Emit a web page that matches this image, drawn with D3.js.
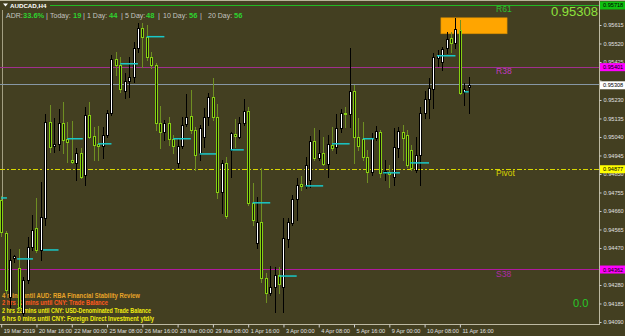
<!DOCTYPE html>
<html><head><meta charset="utf-8">
<script src="https://cdn.jsdelivr.net/npm/d3@7"></script>
<style>html,body{margin:0;padding:0;background:#433f21;overflow:hidden}svg{display:block}text{font-family:"Liberation Sans",Arial,sans-serif}</style>
</head><body><svg id="c" width="625" height="336"></svg>
<script>
// ---- data (AUDCAD H4, bar 0 = 19 Mar 2019 08:00) ----
const opens  = [0.94717,0.94548,0.94218,0.94419,0.94367,0.94136,0.94306,0.94475,0.94573,0.94460,
0.94624,0.95118,0.94995,0.95005,0.95113,0.95031,0.94923,0.94907,0.94959,0.94846,
0.95154,0.95046,0.95005,0.94995,0.95051,0.95164,0.95442,0.95411,0.95277,0.95329,
0.95349,0.95498,0.95601,0.95555,0.95452,0.95411,0.95113,0.95067,0.95113,0.95031,
0.94907,0.94995,0.95108,0.95149,0.95077,0.94959,0.95041,0.95144,0.95246,0.95144,
0.94758,0.94907,0.94974,0.95056,0.95041,0.95113,0.95175,0.94702,0.94496,0.94604,
0.94316,0.94239,0.94270,0.94332,0.94270,0.94517,0.94599,0.94722,0.94799,0.94789,
0.94820,0.95020,0.94933,0.94959,0.94902,0.95000,0.94989,0.95087,0.95164,0.95159,
0.95277,0.95041,0.95031,0.94938,0.94861,0.95036,0.95067,0.94856,0.94861,0.94835,
0.94984,0.95067,0.95051,0.94974,0.94871,0.94948,0.95164,0.95236,0.95288,0.95447,
0.95426,0.95498,0.95550,0.95524,0.95591,0.95272,0.95298];
const highs  = [0.94738,0.94558,0.94465,0.94434,0.94465,0.94321,0.94527,0.94640,0.94727,0.94810,
0.95159,0.95205,0.95139,0.95185,0.95221,0.95118,0.95123,0.94984,0.94984,0.95195,
0.95221,0.95092,0.95097,0.95092,0.95180,0.95462,0.95478,0.95452,0.95370,0.95452,
0.95529,0.95627,0.95627,0.95617,0.95478,0.95421,0.95200,0.95128,0.95144,0.95051,
0.95036,0.95144,0.95262,0.95282,0.95092,0.95103,0.95190,0.95267,0.95344,0.95210,
0.94923,0.94938,0.95067,0.95133,0.95144,0.95236,0.95195,0.94804,0.94732,0.94881,
0.94342,0.94378,0.94373,0.94373,0.94624,0.94624,0.94743,0.94830,0.94840,0.94938,
0.95046,0.95087,0.95077,0.95041,0.95051,0.95092,0.95159,0.95185,0.95195,0.95498,
0.95308,0.95139,0.95118,0.94974,0.95061,0.95097,0.95077,0.94923,0.94897,0.95087,
0.95092,0.95103,0.95077,0.95000,0.95041,0.95195,0.95277,0.95344,0.95473,0.95488,
0.95503,0.95581,0.95581,0.95652,0.95642,0.95318,0.95349];
const lows   = [0.94532,0.94239,0.94167,0.94398,0.94152,0.94126,0.94290,0.94460,0.94450,0.94409,
0.94589,0.94964,0.94964,0.94974,0.94959,0.94912,0.94907,0.94820,0.94830,0.94794,
0.95036,0.94923,0.94923,0.94933,0.95041,0.95154,0.95360,0.95272,0.95241,0.95246,
0.95324,0.95478,0.95401,0.95437,0.95396,0.95077,0.94984,0.95025,0.95000,0.94959,
0.94887,0.94984,0.95097,0.95061,0.94871,0.94923,0.94989,0.95103,0.95128,0.94727,
0.94650,0.94624,0.94835,0.94989,0.95036,0.95103,0.94691,0.94589,0.94470,0.94296,
0.94193,0.94229,0.94141,0.94239,0.94141,0.94475,0.94589,0.94614,0.94768,0.94779,
0.94784,0.94923,0.94923,0.94897,0.94835,0.94974,0.94959,0.95067,0.95092,0.95092,
0.94907,0.94974,0.94923,0.94810,0.94846,0.95025,0.94835,0.94820,0.94784,0.94794,
0.94938,0.94923,0.94887,0.94871,0.94861,0.94794,0.95139,0.95139,0.95190,0.95406,
0.95385,0.95473,0.95478,0.95498,0.95262,0.95205,0.95164];
const closes = [0.94553,0.94254,0.94409,0.94429,0.94167,0.94306,0.94475,0.94563,0.94460,0.94630,
0.95118,0.94989,0.95005,0.95113,0.95025,0.95015,0.94912,0.94959,0.94835,0.95154,
0.95041,0.95000,0.94995,0.95051,0.95164,0.95442,0.95411,0.95288,0.95329,0.95349,
0.95498,0.95601,0.95555,0.95452,0.95411,0.95113,0.95067,0.95113,0.95031,0.94995,
0.94995,0.95103,0.95144,0.95077,0.94948,0.95087,0.95144,0.95246,0.95144,0.94758,
0.94907,0.94635,0.95061,0.95046,0.95113,0.95175,0.94702,0.94614,0.94604,0.94316,
0.94239,0.94270,0.94332,0.94285,0.94522,0.94604,0.94722,0.94794,0.94789,0.94897,
0.95020,0.94933,0.94959,0.94902,0.95005,0.94984,0.95087,0.95164,0.95159,0.95277,
0.95041,0.94995,0.94938,0.94861,0.95036,0.95072,0.94856,0.94866,0.94851,0.94989,
0.95072,0.95036,0.94897,0.94881,0.94948,0.95164,0.95236,0.95293,0.95452,0.95462,
0.95493,0.95545,0.95524,0.95596,0.95267,0.95288,0.95308];

const timeTickBars   = [0,8,16,24,32,40,48,56,64,72,80,88,96,104];
const timeTickLabels = ["19 Mar 2019","20 Mar 16:00","22 Mar 00:00","25 Mar 08:00","26 Mar 16:00","28 Mar 00:00","29 Mar 08:00",
  "1 Apr 16:00","3 Apr 00:00","4 Apr 08:00","5 Apr 16:00","9 Apr 00:00","10 Apr 08:00","11 Apr 16:00"];
const priceTicks = [0.95615,0.95520,0.95425,0.95330,0.95230,0.95135,0.95040,0.94945,0.94850,0.94755,
  0.94660,0.94565,0.94470,0.94375,0.94280,0.94185,0.94090];
const hiddenTickLabels = [0.95330,0.94375]; // covered by the level boxes in the original

// cyan segments: start bar, end bar, price
const cyanStart = [0,3.6,9.5,15,22,27,33,39,45,52,57,63,69,75,82,86.6,92.7,98.8,105];
const cyanEnd   = [1.3,7.2,13,18.5,25,31,37,43,48.7,55,61,67,73,79,84.5,90.4,97,103,106];
const cyanPrice = [0.94727,0.94414,0.94460,0.95031,0.95005,0.95416,0.95555,0.95031,0.94953,0.94974,
  0.94702,0.94326,0.94789,0.95005,0.95031,0.94856,0.94907,0.95457,0.95272];

// pivot levels
const levelNames  = ["R61","R38","Pivot","S38"];
const levelValues = [0.95718,0.95401,0.94877,0.94362];
const bidPrice = 0.95308;
const zoneBars   = [99.7,114.7];
const zonePrices = [0.95652,0.95570];

const adrLabels = ["ADR:","Today:","1 Day:","5 Day:","10 Day:","20 Day:"];
const adrValues = ["33.6%","19","44","48","56","56"];
const events = ["4 mins until AUD: RBA Financial Stability Review",
  "2 hrs 22 mins until CNY: Trade Balance",
  "2 hrs 22 mins until CNY: USD-Denominated Trade Balance",
  "6 hrs 0 mins until CNY: Foreign Direct Investment ytd/y"];
const eventColors = ["#e8a428","#ff5a1e","#f0ee10","#f0ee10"];

// ---- drawing ----
const W=625,H=336, plotR=599, plotB=324;
const svg=d3.select("#c");
const bg="#433f21";
svg.append("rect").attr("width",W).attr("height",H).attr("fill",bg);

const x=d3.scaleLinear().domain([0,106]).range([1.2,468.7]);
const y=d3.scaleLinear().domain([0.94090,0.95615]).range([322,25]);
const py=v=>Math.round(y(v))+0.5;

const plot=svg.append("g");
svg.append("line").attr("x1",0).attr("x2",W).attr("y1",0.5).attr("y2",0.5).attr("stroke","#b9b59a");
plot.append("line").attr("x1",2.5).attr("x2",2.5).attr("y1",10).attr("y2",200).attr("stroke","#bcb89c").attr("stroke-width",0.8);

// levels
const lvlColors=["#22b822","#a0308e","#d8d800","#b0199f"];
levelValues.forEach((v,i)=>{
  const l=plot.append("line").attr("x1",i===0?50:0).attr("x2",plotR).attr("y1",py(v)).attr("y2",py(v))
   .attr("stroke",lvlColors[i]).attr("stroke-width",1);
  if(levelNames[i]==="Pivot") l.attr("stroke-dasharray","5,2,2,2");
});
plot.append("line").attr("x1",0).attr("x2",plotR).attr("y1",py(bidPrice)-1).attr("y2",py(bidPrice)-1)
  .attr("stroke","#8797a5");

// orange zone
plot.append("rect").attr("x",x(zoneBars[0])).attr("width",x(zoneBars[1])-x(zoneBars[0]))
  .attr("y",y(zonePrices[0])).attr("height",y(zonePrices[1])-y(zonePrices[0]))
  .attr("fill","#ffa500").attr("stroke","#d08a00").attr("stroke-width",0.6);

// event text (behind candles)
const eventEnds=[140,108,151,154];
events.forEach((t,i)=>{
  svg.append("text").attr("x",2).attr("y",297.5+i*7.8).attr("fill",eventColors[i])
   .attr("font-size",7).attr("font-weight","bold")
   .attr("textLength",eventEnds[i]-2).attr("lengthAdjust","spacingAndGlyphs").text(t);
});

// candles
const data=d3.range(opens.length).map(i=>({i,o:opens[i],h:highs[i],l:lows[i],c:closes[i]}));
const cg=svg.append("g").attr("shape-rendering","crispEdges");
cg.selectAll("line").data(data).join("line")
  .attr("x1",d=>Math.round(x(d.i))+0.5).attr("x2",d=>Math.round(x(d.i))+0.5)
  .attr("y1",d=>Math.round(y(d.h))).attr("y2",d=>Math.round(y(d.l))+1)
  .attr("stroke",d=>d.c>=d.o?"#000000":"#6f8f22");
cg.selectAll("rect").data(data).join("rect")
  .attr("x",d=>Math.round(x(d.i))-0.5).attr("width",2)
  .attr("y",d=>Math.round(y(Math.max(d.o,d.c)))+0.5)
  .attr("height",d=>Math.max(1,Math.round(y(Math.min(d.o,d.c)))-Math.round(y(Math.max(d.o,d.c)))))
  .attr("fill",d=>d.c>=d.o?"#ffffff":"#14140a")
  .attr("stroke",d=>d.c>=d.o?"#000000":"#86d012");

// cyan segments
svg.append("g").selectAll("line").data(cyanPrice).join("line")
  .attr("x1",(d,i)=>x(cyanStart[i])).attr("x2",(d,i)=>x(cyanEnd[i]))
  .attr("y1",d=>y(d)).attr("y2",d=>y(d)).attr("stroke","#19c8c8").attr("stroke-width",1.5);

// level labels
const labelX=x(112.2);
const lblColors=["#2ec02e","#c23ac2","#d8d400","#b02aa8"];
levelValues.forEach((v,i)=>{
  svg.append("text").attr("x",labelX).attr("y",y(v)+7.5).attr("fill",lblColors[i])
   .attr("font-size",8.5).text(levelNames[i]);
});

// header
svg.append("rect").attr("x",0).attr("y",1).attr("width",50).attr("height",8).attr("fill",bg);
svg.append("path").attr("d","M3,3.5L8,3.5L5.5,6.5Z").attr("fill","#ffffff");
svg.append("text").attr("x",10).attr("y",7.5).attr("fill","#ffffff").attr("font-size",6.2).attr("font-weight","bold").text("AUDCAD,H4");

// ADR line
const adrLX=[6,50,87,125,163,208];
const adrVX=[23,73,109,146,189,234];
const sepX=[46,83,121,158,200];
adrLabels.forEach((t,i)=>{
  svg.append("text").attr("x",adrLX[i]).attr("y",17.5).attr("fill","#c4c4c0").attr("font-size",7).text(t);
  svg.append("text").attr("x",adrVX[i]).attr("y",17.5).attr("fill","#2fd22f").attr("font-size",7.5).attr("font-weight","bold").text(adrValues[i]);
});
sepX.forEach(sx=>svg.append("text").attr("x",sx).attr("y",17.5).attr("fill","#c4c4c0").attr("font-size",7.5).text("|"));

// big bid & 0.0
svg.append("text").attr("x",598).attr("y",16).attr("text-anchor","end").attr("fill","#8ee23c")
  .attr("font-size",13).text(d3.format(".5f")(bidPrice));
svg.append("text").attr("x",573).attr("y",307).attr("fill","#28c828").attr("font-size",11).text("0.0");

// axes
const ya=svg.append("g").attr("transform",`translate(${plotR+0.5},0)`)
  .call(d3.axisRight(y).tickValues(priceTicks).tickSize(2)
    .tickFormat(d=>hiddenTickLabels.includes(d)?"":d3.format(".5f")(d)));
ya.select(".domain").attr("stroke","#bdb9a2").attr("d",`M0,0V${plotB}`);
ya.selectAll(".tick line").attr("stroke","#d0d0d0");
ya.selectAll("text").attr("fill","#e0e0e0").attr("font-size",5.6).attr("x",4);

const xa=svg.append("g").attr("transform",`translate(0,${plotB+0.5})`)
  .call(d3.axisBottom(x).tickValues(timeTickBars).tickSize(3).tickFormat((d,i)=>timeTickLabels[i]));
xa.select(".domain").attr("stroke","#bdb9a2").attr("d",`M0,0H${plotR+1}`);
xa.selectAll(".tick line").attr("stroke","#d0d0d0");
xa.selectAll("text").attr("fill","#e0e0e0").attr("font-size",5.6).attr("text-anchor","start").attr("x",2).attr("y",4.5);

// axis value boxes
const boxes=[[levelValues[0],"#10c010","#000"],[levelValues[1],"#ff00ff","#000"],[bidPrice,"#ffffff","#000"],
  [levelValues[2],"#ffff00","#000"],[levelValues[3],"#ff00ff","#000"]];
boxes.forEach(b=>{
  const yy=Math.max(4.5,y(b[0]));
  svg.append("rect").attr("x",600).attr("y",yy-3.5).attr("width",25).attr("height",8).attr("fill",b[1]);
  svg.append("text").attr("x",603).attr("y",yy+2.5).attr("fill",b[2]).attr("font-size",5.6).text(d3.format(".5f")(b[0]));
});
</script></body></html>
